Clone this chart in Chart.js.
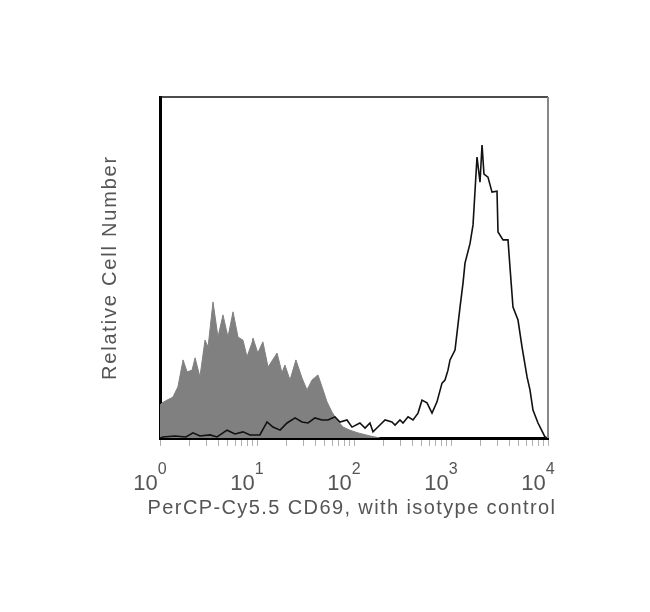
<!DOCTYPE html>
<html>
<head>
<meta charset="utf-8">
<script src="https://cdn.jsdelivr.net/npm/chart.js@4.4.1/dist/chart.umd.min.js"></script>
<style>
  html, body { margin: 0; padding: 0; background: #fff; }
  #wrap { width: 650px; height: 612px; }
</style>
</head>
<body>
<div id="wrap"><canvas id="histo" width="650" height="612"></canvas></div>
<script>
// isotype control (filled grey)
const isoX = [1.00, 1.05, 1.18, 1.36, 1.53, 1.73, 1.90, 2.14, 2.30, 2.58, 2.91, 3.13, 3.52, 3.96, 4.46,
  5.02, 5.66, 6.37, 7.17, 7.89, 8.88, 9.10, 10.2, 11.5, 13.0, 16.1, 18.1, 19.4, 21.9, 25.2, 29.1,
  32.8, 36.9, 42.5, 46.8, 52.7, 59.3, 66.8, 77.0, 90.9, 110, 146, 185];
const isoY = [9.7, 10.3, 11.1, 12.0, 15.0, 22.9, 19.4, 19.9, 23.5, 17.9, 28.7, 26.7, 39.9, 29.6, 36.1,
  29.6, 37.0, 29.6, 28.7, 23.8, 27.9, 29.3, 24.9, 28.2, 20.8, 24.9, 19.1, 21.4, 17.0, 22.9, 17.6,
  14.1, 17.0, 18.5, 15.0, 10.6, 7.6, 5.3, 3.2, 2.3, 1.5, 0.6, 0];

// CD69 stained (open black line)
const cd69X = [1.0, 1.07, 1.43, 1.85, 2.19, 2.58, 3.28, 3.87, 4.91, 5.93, 7.17, 8.47, 10.7, 12.7, 14.6,
  17.3, 20.4, 24.7, 29.1, 33.6, 39.6, 46.8, 53.9, 63.7, 71.7, 84.7, 95.4, 115, 130, 146, 157, 185,
  209, 246, 265, 298, 320, 361, 406, 457, 502, 566, 637, 717, 808, 867, 931, 977, 1100, 1239, 1331,
  1394, 1570, 1687, 1854, 1991, 2089, 2188, 2405, 2647, 2981, 3053, 3436, 3870, 4055, 4355, 4906,
  5395, 6081, 6520, 7000, 7890, 9311, 10000];
const cd69Y = [0, 0.3, 0.6, 0.3, 1.5, 0.6, 0.9, 0.3, 2.3, 1.2, 1.8, 0.9, 0.9, 4.7, 3.2,
  2.3, 4.4, 5.9, 4.7, 4.4, 5.9, 5.3, 5.3, 6.2, 4.7, 5.3, 3.2, 4.4, 2.9, 4.4, 1.8, 3.8,
  5.3, 4.7, 3.8, 5.3, 4.4, 6.2, 5.3, 7.3, 11.1, 10.3, 7.3, 10.6, 16.1, 17.0, 19.9, 22.9, 25.8, 38.4, 45.5,
  51.3, 57.0, 62.5, 82.4, 75.0, 85.9, 77.4, 76.5, 72.1, 72.4, 60.4, 58.1, 58.1, 50.1, 38.4, 34.6,
  26.7, 17.9, 14.1, 8.2, 4.4, 0.3, 0];

const decades = [1, 10, 100, 1000, 10000];
const xTitle = 'PerCP-Cy5.5 CD69, with isotype control';
const yTitle = 'Relative Cell Number';

function toPoints(xs, ys) {
    return xs.map((x, i) => ({ x: x, y: ys[i] }));
}

// top/right frame lines, decade labels 10^n, x title (chart.js squeezes it to the axis width)
const framePlugin = {
    id: 'frame',
    beforeDraw(chart) {
        chart.ctx.letterSpacing = '1.8px';
    },
    beforeDatasetsDraw(chart) {
        chart.ctx.letterSpacing = '0px';
    },
    afterDraw(chart) {
        const ctx = chart.ctx;
        const a = chart.chartArea;
        const xs = chart.scales.x;
        ctx.save();
        ctx.strokeStyle = '#111';
        ctx.lineWidth = 1.5;
        ctx.beginPath();
        ctx.moveTo(a.left, a.top);
        ctx.lineTo(a.right, a.top);
        ctx.stroke();
        ctx.strokeStyle = '#888';
        ctx.lineWidth = 2;
        ctx.beginPath();
        ctx.moveTo(a.right, a.top);
        ctx.lineTo(a.right, a.bottom);
        ctx.stroke();

        ctx.fillStyle = '#555';
        ctx.textBaseline = 'alphabetic';
        ctx.textAlign = 'left';
        decades.forEach(function (d, i) {
            const px = xs.getPixelForValue(d);
            ctx.font = '22px "Liberation Sans", Arial, sans-serif';
            const w1 = ctx.measureText('10').width;
            ctx.font = '16px "Liberation Sans", Arial, sans-serif';
            const w2 = ctx.measureText(String(i)).width;
            const left = px - 10 - (w1 + w2) / 2;
            ctx.font = '22px "Liberation Sans", Arial, sans-serif';
            ctx.fillText('10', left, 490);
            ctx.font = '16px "Liberation Sans", Arial, sans-serif';
            ctx.fillText(String(i), left + w1, 474);
        });

        ctx.letterSpacing = '1.4px';
        ctx.font = '20px "Liberation Sans", Arial, sans-serif';
        ctx.textAlign = 'center';
        ctx.textBaseline = 'middle';
        ctx.fillText(xTitle, (a.left + a.right) / 2 - 2, 508);
        ctx.letterSpacing = '0px';
        ctx.restore();
    }
};

const histoChart = new Chart(document.getElementById('histo'), {
    type: 'line',
    data: {
        datasets: [{
            label: 'CD69',
            data: toPoints(cd69X, cd69Y),
            borderColor: '#111',
            borderWidth: 1.6,
            backgroundColor: 'rgba(0,0,0,0)',
            fill: false,
            pointRadius: 0,
            tension: 0,
            order: 1
        }, {
            label: 'isotype',
            data: toPoints(isoX, isoY),
            borderColor: '#808080',
            borderWidth: 1,
            backgroundColor: '#808080',
            fill: 'origin',
            pointRadius: 0,
            tension: 0,
            order: 2
        }]
    },
    options: {
        responsive: false,
        animation: false,
        layout: { padding: { left: 98, right: 102, top: 97, bottom: 91 } },
        plugins: { legend: { display: false }, tooltip: { enabled: false } },
        scales: {
            x: {
                type: 'logarithmic',
                min: 1,
                max: 10000,
                afterBuildTicks: function (scale) {
                    const t = [];
                    decades.forEach(function (d, i) {
                        if (i == decades.length - 1) {
                            t.push({ value: d, major: true });
                            return;
                        }
                        for (let k = 1; k < 10; k++) t.push({ value: d * k, major: k == 1 });
                    });
                    scale.ticks = t;
                },
                afterFit: function (scale) { scale.height = 83; },
                ticks: { autoSkip: false, callback: () => '', padding: 0 },
                grid: {
                    drawOnChartArea: false,
                    drawTicks: true,
                    tickLength: 8,
                    tickColor: '#b0b0b0',
                    tickWidth: 1
                },
                border: { color: '#000', width: 3 },
                title: { display: false }
            },
            y: {
                min: 0,
                max: 100,
                afterFit: function (scale) { scale.width = 62; },
                ticks: { display: false },
                grid: { display: false },
                border: { color: '#000', width: 3 },
                title: {
                    display: true,
                    text: yTitle,
                    color: '#555',
                    font: { family: '"Liberation Sans", Arial, sans-serif', size: 20 },
                    padding: 0
                }
            }
        }
    },
    plugins: [framePlugin]
});
</script>
</body>
</html>
